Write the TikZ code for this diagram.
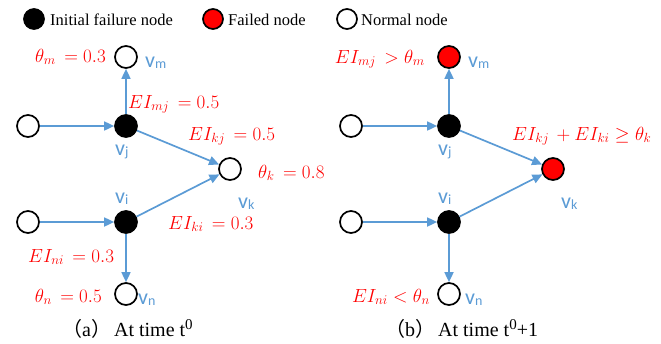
\RequirePackage{fix-cm}
\documentclass[tikz,border=0pt]{standalone}
\usepackage{fontspec}
\setmainfont{Liberation Serif}
\newfontfamily\vfont{Carlito}
\newfontfamily\cjk{Noto Sans CJK SC}
\usetikzlibrary{arrows.meta}
\definecolor{arrblue}{RGB}{91,155,213}
\newcommand\vlab[1]{{\vfont\fontsize{22}{22}\selectfont v\raisebox{-1.5pt}{\fontsize{14}{14}\selectfont #1}}}
\tikzset{
  nd/.style={circle, draw=black, line width=1.7pt, minimum size=22pt, inner sep=0pt},
  initn/.style={nd, fill=black},
  failn/.style={nd, fill=red},
  normn/.style={nd, fill=white},
  arr/.style={draw=arrblue, line width=1.7pt, -{Triangle[length=10pt,width=9pt]}},
  lbl/.style={text=red, inner sep=0pt, font=\fontsize{19}{20}\selectfont},
  vl/.style={text=arrblue, inner sep=0pt},
  leg/.style={inner sep=0pt, anchor=base west, font=\fontsize{16.5}{18}\selectfont},
  captext/.style={inner sep=0pt, anchor=base west, font=\fontsize{20}{22}\selectfont}
}
\begin{document}
\begin{tikzpicture}[x=1pt,y=-1pt]
\useasboundingbox (0,0) rectangle (661,343);
% legend
\node[initn, minimum size=20pt] (l1) at (34,19) {};
\node[leg] (t1) at (50,25) {Initial failure node};
\node[failn, minimum size=20pt] (l2) at (213,19) {};
\node[leg] (t2) at (228,25) {Failed node};
\node[normn, minimum size=20pt] (l3) at (347,19) {};
\node[leg] (t3) at (361,25) {Normal node};

% panel a
\node[normn] (am) at (126,57) {};
\node[initn] (aj) at (126,126) {};
\node[normn] (aL1) at (28,126) {};
\node[normn] (ak) at (230,169) {};
\node[initn] (ai) at (126,222) {};
\node[normn] (aL2) at (28,222) {};
\node[normn] (an) at (126,294) {};
\draw[arr] (aL1) -- (aj);
\draw[arr] (aj) -- (am);
\draw[arr] (aj) -- (ak);
\draw[arr] (aL2) -- (ai);
\draw[arr] (ai) -- (ak);
\draw[arr] (ai) -- (an);
\node[vl, anchor=base west] (avm) at (145,67) {\vlab{m}};
\node[vl, anchor=base west] (avj) at (115,155) {\vlab{j}};
\node[vl, anchor=base west] (avi) at (115,203) {\vlab{i}};
\node[vl, anchor=base west] (avk) at (238,208) {\vlab{k}};
\node[vl, anchor=base west] (avn) at (138,304) {\vlab{n}};
\node[lbl, anchor=base east] (athm) at (106,62) {$\theta_m\,=0.3$};
\node[lbl, anchor=base west] (aemj) at (128,108) {$EI_{mj}\,=0.5$};
\node[lbl, anchor=base west] (aekj) at (188,140) {$EI_{kj}\,=0.5$};
\node[lbl, anchor=base west] (athk) at (258,178) {$\theta_k\,=0.8$};
\node[lbl, anchor=base west] (aeki) at (168,229) {$EI_{ki}\,=0.3$};
\node[lbl, anchor=base west] (aeni) at (28,262) {$EI_{ni}\,=0.3$};
\node[lbl, anchor=base east] (athn) at (102,302) {$\theta_n\,=0.5$};
\node[captext] (capa) at (62,336) {{\cjk （}a{\cjk ）}\hspace{3pt}At time t\raisebox{7pt}{\fontsize{15}{15}\selectfont 0}};

% panel b
\node[failn] (bm) at (449,57) {};
\node[initn] (bj) at (449,126) {};
\node[normn] (bL1) at (351,126) {};
\node[failn] (bk) at (553,169) {};
\node[initn] (bi) at (449,222) {};
\node[normn] (bL2) at (351,222) {};
\node[normn] (bn) at (449,294) {};
\draw[arr] (bL1) -- (bj);
\draw[arr] (bj) -- (bm);
\draw[arr] (bj) -- (bk);
\draw[arr] (bL2) -- (bi);
\draw[arr] (bi) -- (bk);
\draw[arr] (bi) -- (bn);
\node[vl, anchor=base west] (bvm) at (468,67) {\vlab{m}};
\node[vl, anchor=base west] (bvj) at (438,155) {\vlab{j}};
\node[vl, anchor=base west] (bvi) at (438,203) {\vlab{i}};
\node[vl, anchor=base west] (bvk) at (561,208) {\vlab{k}};
\node[vl, anchor=base west] (bvn) at (465,304) {\vlab{n}};
\node[lbl, anchor=base east] (bemj) at (425,63) {$EI_{mj}\,>\theta_m$};
\node[lbl, anchor=base west] (bek) at (512,140) {$EI_{kj}\,+EI_{ki}\geq\theta_k$};
\node[lbl, anchor=base east] (beni) at (430,302) {$EI_{ni}<\theta_n$};
\node[captext] (capb) at (385,336) {{\cjk （}b{\cjk ）}\hspace{3pt}At time t\raisebox{7pt}{\fontsize{15}{15}\selectfont 0}+1};
\end{tikzpicture}
\end{document}
